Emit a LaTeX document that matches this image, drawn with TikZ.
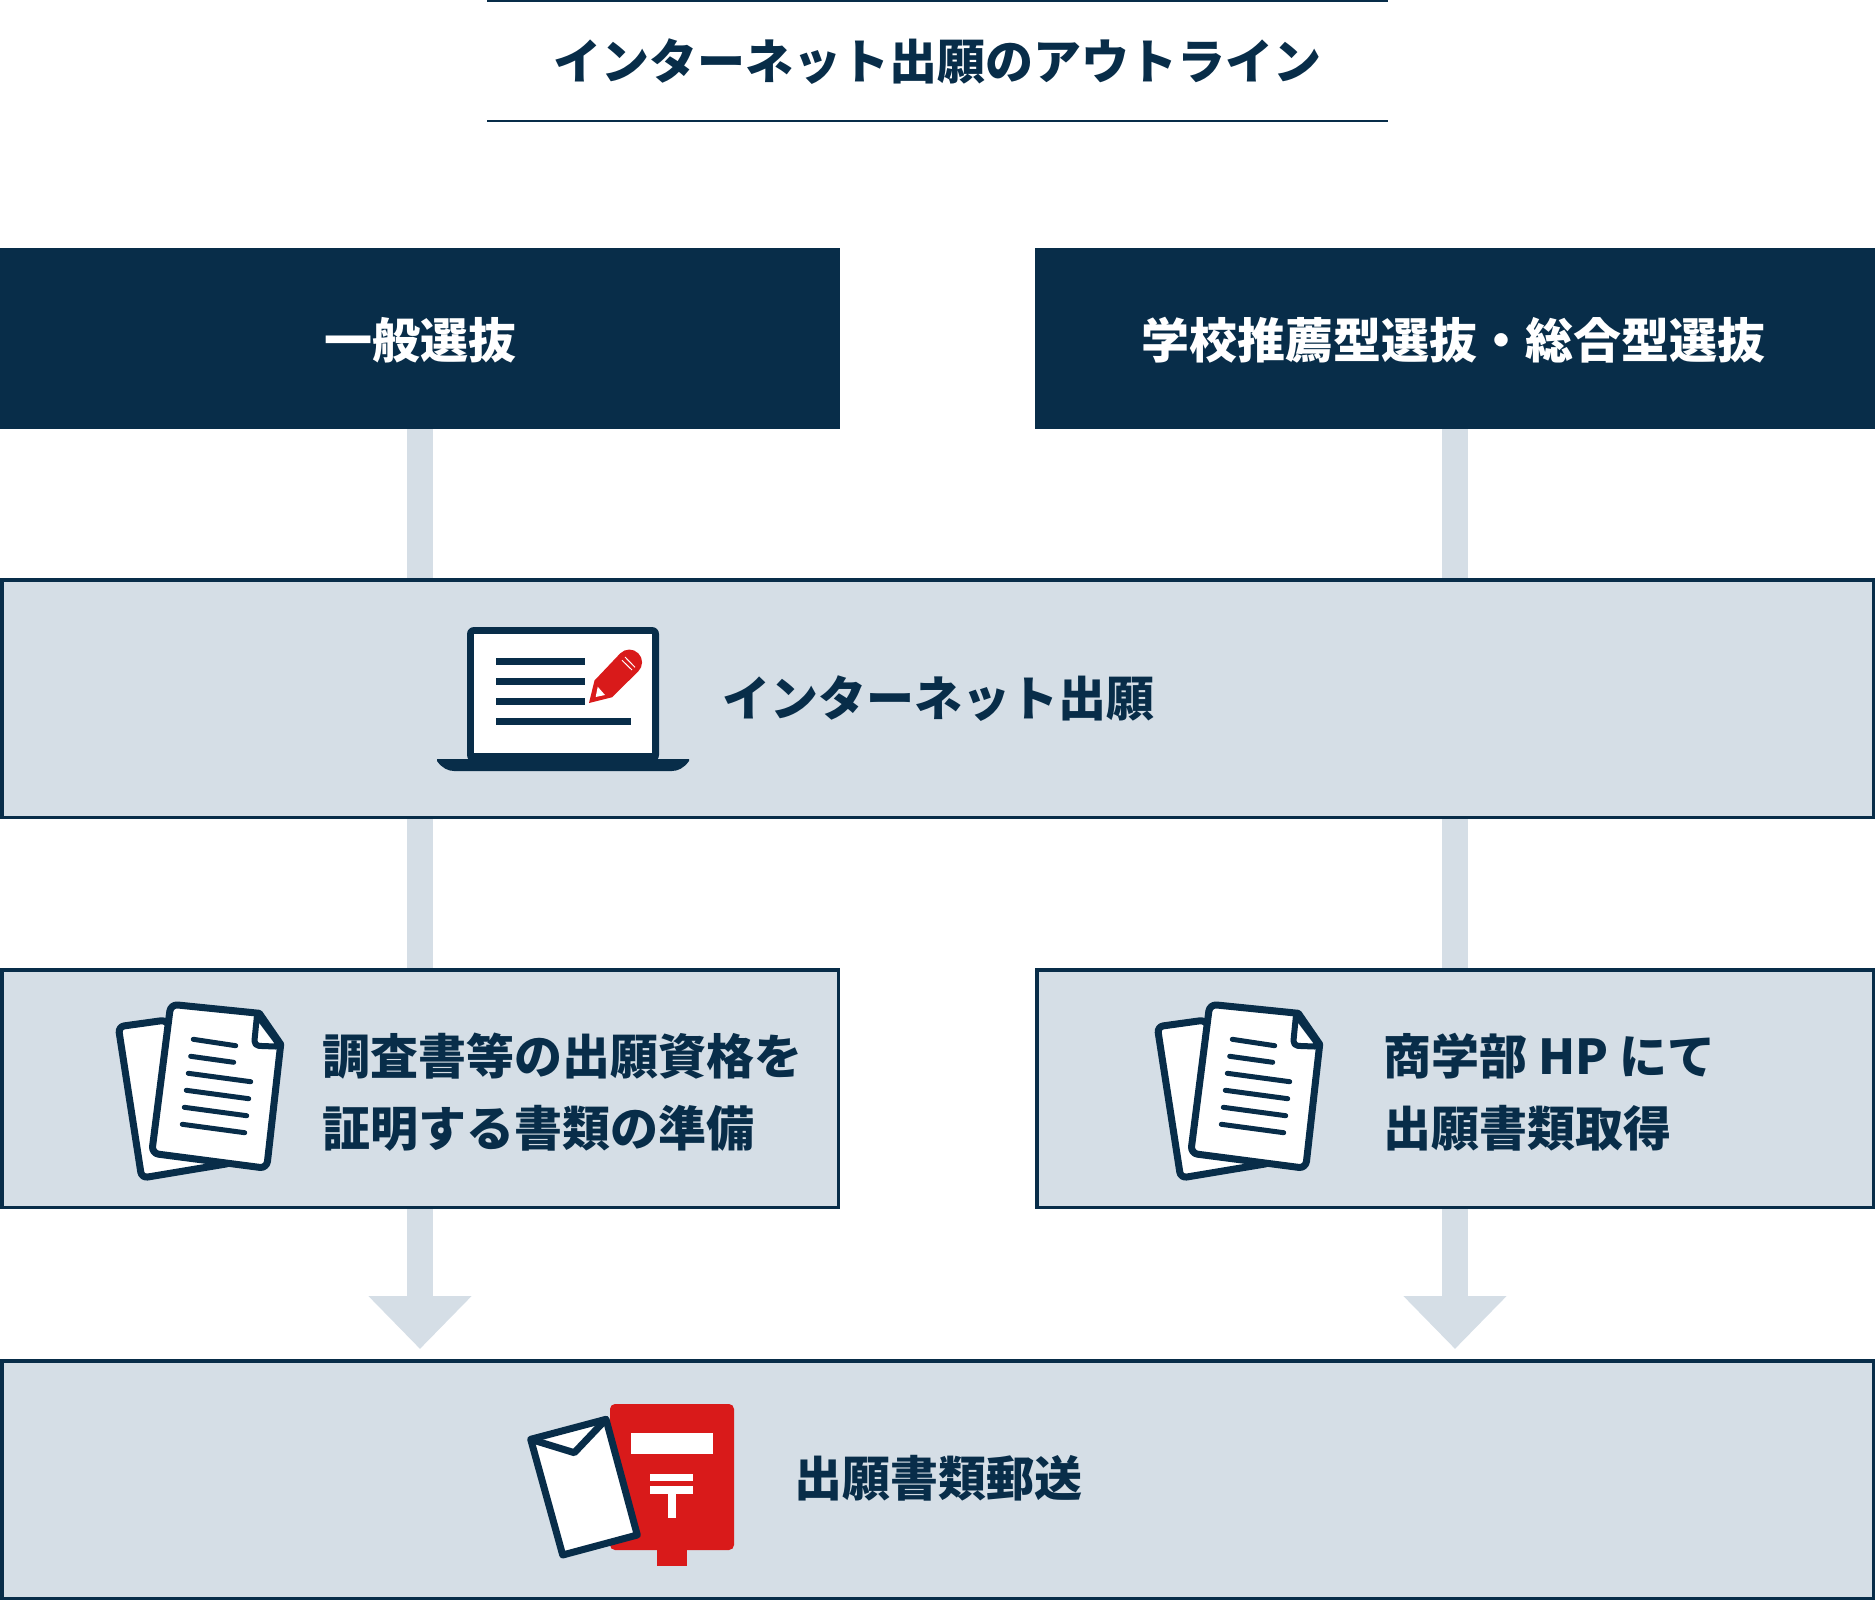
\documentclass[tikz,border=0pt]{standalone}
\usepackage{fontspec}
\setmainfont{Noto Sans CJK JP}
\usetikzlibrary{arrows.meta,positioning}
\definecolor{navy}{HTML}{082D49}
\definecolor{pale}{HTML}{D5DEE6}
\definecolor{postred}{HTML}{D91A1A}
\tikzset{
  docicon/.pic={
    \draw[navy, line width=7pt, fill=white, rounded corners=6pt, line join=round]
      (166.7,1020) -- (118.3,1026.7) -- (141.7,1178) -- (232,1163) -- cycle;
    \draw[navy, line width=7pt, fill=white, line join=round]
      [rounded corners=7pt] (259.3,1013.3) -- (170.7,1004.3) -- (151.7,1153.3) -- (266.7,1168.3)
      [rounded corners=0pt] -- (280.7,1044.3) -- cycle;
    \draw[navy, line width=6pt, fill=white, line join=round]
      [rounded corners=5pt] (257,1015) -- (254,1045.7) -- (280.7,1046.7)
      [rounded corners=0pt] -- cycle;
    \foreach \xa/\ya/\xb/\yb in {193.3/1039.3/235.7/1045.7, 190.7/1056.3/233.7/1062.3,
        188.3/1073.3/250.7/1081.7, 186.3/1090.3/248.7/1098.7,
        184.3/1107.3/246.7/1115.7, 182.3/1124.3/244.7/1132.7}
      \draw[navy, line width=5pt, line cap=round] (\xa,\ya) -- (\xb,\yb);
  }
}
\begin{document}
\begin{tikzpicture}[
  x=1pt, y=-1pt,
  head/.style={rectangle, fill=navy, outer sep=0pt, minimum width=840pt, minimum height=181pt},
  panel/.style={rectangle, draw=navy, line width=3.5pt, outer sep=1.75pt, fill=pale, minimum height=237.5pt},
  txt/.style={text=navy, inner sep=0pt, outer sep=0pt, align=left, font=\fontsize{48}{72}\selectfont\bfseries},
  bar/.style={pale, line width=26pt},
  rule/.style={navy, line width=2.5pt}
]
  \useasboundingbox (0,0) rectangle (1875,1600);

  \node[txt] (title) at (937,61.5) {インターネット出願のアウトライン};
  \coordinate (ruleA) at (487,1);
  \coordinate (ruleB) at (1388,1);
  \coordinate (ruleC) at (487,121);
  \coordinate (ruleD) at (1388,121);
  \draw[rule] (ruleA) -- (ruleB);
  \draw[rule] (ruleC) -- (ruleD);

  \node[head, anchor=north west] (headL) at (0,248) {};
  \node[head, right=195pt of headL] (headR) {};
  \node[txt, text=white, yshift=-2pt] (headLText) at (headL) {一般選抜};
  \node[txt, text=white, xshift=-2pt, yshift=-2pt] (headRText) at (headR) {学校推薦型選抜・総合型選抜};

  \node[panel, anchor=north west, minimum width=1871.5pt] (online) at (0,578) {};
  \node[panel, anchor=north west, minimum width=836.5pt] (docL) at (0,968) {};
  \node[panel, anchor=north west, minimum width=836.5pt] (docR) at (1035,968) {};
  \node[panel, anchor=north west, minimum width=1871.5pt] (mail) at (0,1359) {};

  \coordinate (tipL) at (docL.south |- 0,1349);
  \coordinate (tipR) at (docR.south |- 0,1349);

  \draw[bar] (headL.south) -- (headL.south |- online.north);
  \draw[bar] (headR.south) -- (headR.south |- online.north);
  \draw[bar] (docL.north |- online.south) -- (docL.north);
  \draw[bar] (docR.north |- online.south) -- (docR.north);
  \draw[bar, -{Triangle[width=100pt, length=53pt]}] (docL.south) -- (tipL);
  \draw[bar, -{Triangle[width=100pt, length=53pt]}] (docR.south) -- (tipR);

  \node[txt, anchor=west] (onlineText) at (722,699) {インターネット出願};
  \node[txt, anchor=west] (docLText) at (322,1092) {調査書等の出願資格を\\証明する書類の準備};
  \node[txt, anchor=west] (docRText) at (1383,1092) {商学部 HP にて\\出願書類取得};
  \node[txt, anchor=west] (mailText) at (794,1478) {出願書類郵送};

  % laptop
  \fill[navy, rounded corners=7pt] (467,762) -- (467,627) -- (659,627) -- (659,762) -- cycle;
  \fill[white] (474,634) rectangle (652,753);
  \fill[navy] (437,759) -- (689,759) -- (689,761) .. controls (684,768) and (678,771) .. (672,771)
    -- (454,771) .. controls (448,771) and (442,768) .. (437,761) -- cycle;
  \foreach \ya/\xb in {658/585, 678/585, 698/585, 718/631}
    \fill[navy] (496,\ya) rectangle (\xb,\ya+7);
  \fill[postred] (589,703) -- (594.5,680.5) -- (620.3,653.3) .. controls (625.3,648.3) and (633.3,648.3) .. (638.3,653.3)
    .. controls (643.3,658.3) and (643.3,666.3) .. (638.3,671.3) -- (612,697.3) -- cycle;
  \fill[white] (597.7,686.7) -- (605,695) -- (595.7,697) -- cycle;
  \draw[white, line width=1pt] (625,657) -- (635,667.3);
  \draw[white, line width=1pt] (622,660.3) -- (632,670);

  % documents
  \pic at (0,0) {docicon};
  \pic at (1039,0) {docicon};

  % post box and envelope
  \fill[postred] (657,1545) rectangle (687,1566);
  \fill[postred, rounded corners=5pt] (610,1404) rectangle (734,1550);
  \fill[white] (631,1433) rectangle (713,1454);
  \fill[white] (650,1474) rectangle (693,1481);
  \fill[white] (650,1486) rectangle (693,1494);
  \fill[white] (668,1494) rectangle (676,1518);
  \draw[navy, line width=7pt, fill=white, line join=round]
    (530.7,1439.3) -- (606,1419.3) -- (637.3,1535) -- (562.7,1555) -- cycle;
  \draw[navy, line width=7pt, line join=round] (530.7,1439.3) -- (574.3,1452.7) -- (606,1419.3);
\end{tikzpicture}
\end{document}
